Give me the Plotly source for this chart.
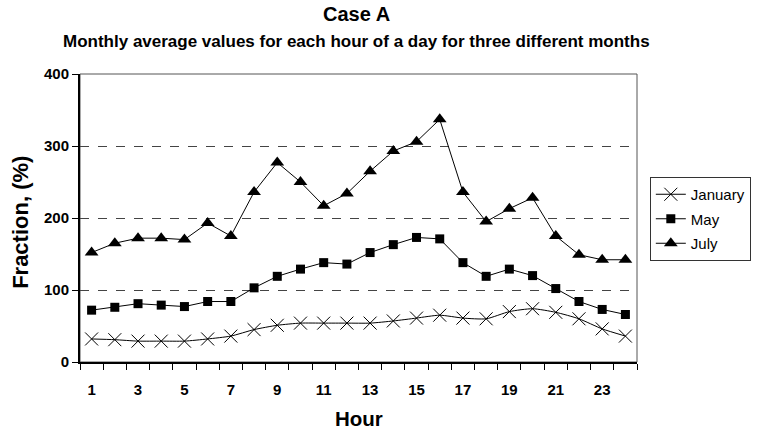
import plotly.graph_objects as go

hours = list(range(1, 25))
january = [32, 31, 29, 29, 29, 32, 36, 45, 51, 54, 54, 54, 54, 57, 61, 65, 61, 60, 70, 74, 69, 60, 46, 36]
may = [72, 76, 81, 79, 77, 84, 84, 103, 119, 129, 138, 136, 152, 163, 173, 171, 138, 119, 129, 120, 102, 84, 73, 66]
july = [152, 165, 172, 172, 170, 193, 175, 236, 277, 250, 217, 234, 265, 293, 306, 337, 236, 195, 213, 228, 175, 149, 142, 142]
x_tick_labels = [str(h) for h in range(1, 24, 2)]
y_ticks = [0, 100, 200, 300, 400]

FONT = "Liberation Sans, Arial, sans-serif"

# plot area in pixels
L, R, T, B = 80, 645, 74, 362
W, H = 763, 430


def px_x(px):
    return (px - L) / (R - L)


def px_y(py):
    return (B - py) / (B - T)


fig = go.Figure()
fig.add_trace(go.Scatter(
    x=hours, y=january, name="January", mode="lines+markers", legendgroup="a",
    line=dict(color="black", width=1, shape="spline", smoothing=0.6),
    marker=dict(symbol="x-thin-open", size=13, color="black", line=dict(width=1, color="black")),
))
fig.add_trace(go.Scatter(
    x=hours, y=may, name="May", mode="lines+markers", legendgroup="b",
    line=dict(color="black", width=1),
    marker=dict(symbol="square", size=9, color="black"),
))
fig.add_trace(go.Scatter(
    x=hours, y=july, name="July", mode="lines+markers", legendgroup="c",
    line=dict(color="black", width=1),
    marker=dict(symbol="triangle-up", size=12, color="black"),
))

fig.add_shape(type="rect", xref="paper", yref="paper", x0=0, y0=0, x1=1, y1=1,
              line=dict(color="#555555", width=1), layer="below")

fig.update_layout(
    width=W, height=H,
    margin=dict(l=L, r=W - R, t=T, b=H - B),
    paper_bgcolor="white", plot_bgcolor="white",
    font=dict(family=FONT, color="black"),
    showlegend=True,
    legend=dict(
        x=px_x(658), y=px_y(177), xanchor="left", yanchor="top",
        bordercolor="#333333", borderwidth=1,
        font=dict(family=FONT, size=15, color="black"),
        tracegroupgap=2, itemwidth=30,
    ),
)

fig.add_annotation(text="<b>Case A</b>", x=px_x(360), y=px_y(14), xref="paper", yref="paper",
                   showarrow=False, xanchor="center", yanchor="middle", font=dict(size=20, family=FONT))
fig.add_annotation(text="<b>Monthly average values for each hour of a day for three different months</b>",
                   x=px_x(360), y=px_y(41), xref="paper", yref="paper",
                   showarrow=False, xanchor="center", yanchor="middle", font=dict(size=17, family=FONT))
fig.add_annotation(text="<b>Hour</b>", x=px_x(363), y=px_y(418), xref="paper", yref="paper",
                   showarrow=False, xanchor="center", yanchor="middle", font=dict(size=20.5, family=FONT))
fig.add_annotation(text="<b>Fraction, (%)</b>", x=px_x(19), y=px_y(222), xref="paper", yref="paper",
                   showarrow=False, textangle=-90, xanchor="center", yanchor="middle", font=dict(size=22, family=FONT))

fig.update_xaxes(
    range=[0.5, 24.5], tickmode="array",
    tickvals=list(range(1, 24, 2)), ticktext=x_tick_labels,
    ticks="", showgrid=False, zeroline=False,
    showline=True, linecolor="black", linewidth=2,
    tickfont=dict(size=15, family=FONT, weight="bold"),
    ticklabelstandoff=13,
    minor=dict(tickvals=[h + 0.5 for h in range(0, 25)], ticks="outside", ticklen=6,
               tickcolor="black", tickwidth=1, showgrid=False),
)
fig.update_yaxes(
    range=[0, 400], tickmode="array", tickvals=y_ticks,
    ticks="outside", ticklen=6, tickcolor="black", tickwidth=1,
    showgrid=True, gridcolor="#444444", griddash="dash", gridwidth=1,
    zeroline=False, showline=True, linecolor="black", linewidth=2,
    tickfont=dict(size=15, family=FONT, weight="bold"),
)

fig.write_html("out.html")
